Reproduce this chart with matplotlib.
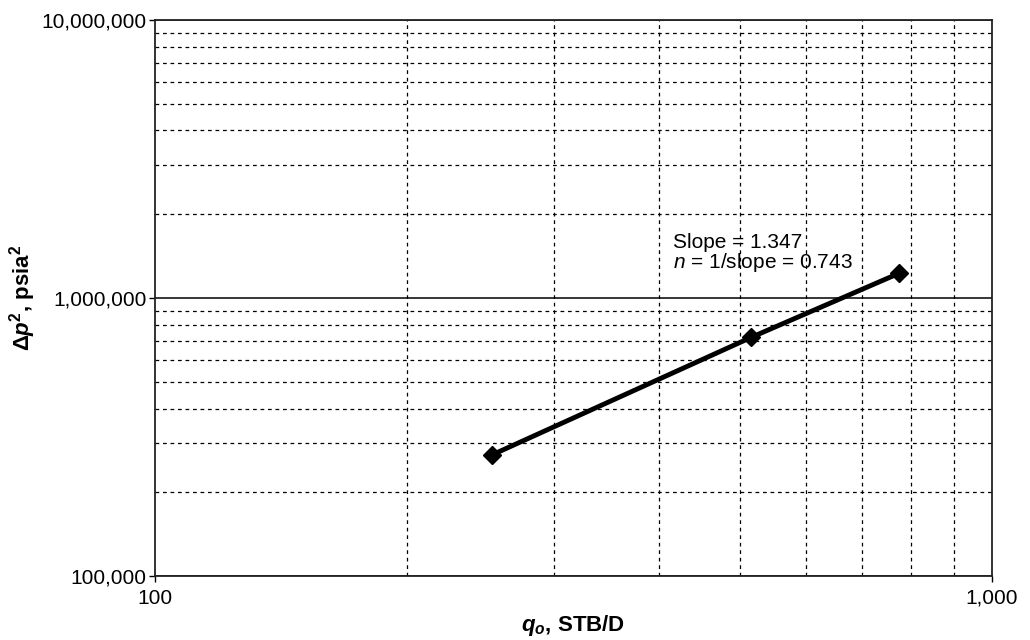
import numpy as np
import matplotlib.pyplot as plt
from matplotlib.ticker import FixedLocator, FuncFormatter, NullFormatter

plt.rcParams["font.family"] = ["Liberation Sans", "DejaVu Sans"]
plt.rcParams["mathtext.fontset"] = "custom"
plt.rcParams["mathtext.rm"] = "Liberation Sans"
plt.rcParams["mathtext.it"] = "Liberation Sans:italic"
plt.rcParams["mathtext.bf"] = "Liberation Sans:bold"
plt.rcParams["mathtext.bfit"] = "Liberation Sans:italic:bold"

# test data
qo = [253, 516, 774]                 # STB/D
dp2 = [273000, 722000, 1225000]      # psia^2

x_major = [100, 1000]
y_major = [100000, 1000000, 10000000]
x_minor = [200, 300, 400, 500, 600, 700, 800, 900]
y_minor = [m * d for d in [100000, 1000000] for m in range(2, 10)]

fig = plt.figure(figsize=(10.3, 6.4), dpi=100)
ax = fig.add_axes([0.1505, 0.1, 0.8125, 0.869])

ax.set_xscale("log")
ax.set_yscale("log")
ax.set_xlim(100, 1000)
ax.set_ylim(100000, 10000000)

ax.xaxis.set_major_locator(FixedLocator(x_major))
ax.yaxis.set_major_locator(FixedLocator(y_major))
ax.xaxis.set_minor_locator(FixedLocator(x_minor))
ax.yaxis.set_minor_locator(FixedLocator(y_minor))
fmt = FuncFormatter(lambda v, p: f"{int(round(v)):,}")
ax.xaxis.set_major_formatter(fmt)
ax.yaxis.set_major_formatter(fmt)
ax.xaxis.set_minor_formatter(NullFormatter())
ax.yaxis.set_minor_formatter(NullFormatter())

ax.grid(which="major", axis="y", color="black", linewidth=1.1, linestyle="-")
ax.grid(which="minor", color="black", linewidth=0.9, linestyle=(0, (3, 3)))
ax.set_axisbelow(True)

ax.tick_params(which="major", direction="out", length=4, width=1, labelsize=15,
               colors="black", pad=2)
ax.tick_params(axis="x", which="major", pad=5)
ax.tick_params(which="minor", length=0)
for s in ax.spines.values():
    s.set_linewidth(1.3)
    s.set_color("#222222")

ax.plot(qo, dp2, color="black", linewidth=3.5, marker="D", markersize=9,
        markerfacecolor="black", markeredgecolor="black", zorder=5)

ax.text(416, 1578000, "Slope = 1.347", fontsize=15, ha="left", va="center")
ax.text(416, 1346000, r"$n$ = 1/slope = 0.743", fontsize=15, ha="left", va="center")

ax.set_xlabel(r"$\mathbfit{q}_\mathbfit{o}$, STB/D", fontsize=16, fontweight="bold")
ax.xaxis.set_label_coords(0.5, -0.066)
ax.set_ylabel(r"Δ$\mathbfit{p}^\mathbf{2}$, psia$^\mathbf{2}$", fontsize=16,
              fontweight="bold")
ax.yaxis.set_label_coords(-0.14, 0.5)

fig.savefig("out.png", dpi=100, facecolor="white")
